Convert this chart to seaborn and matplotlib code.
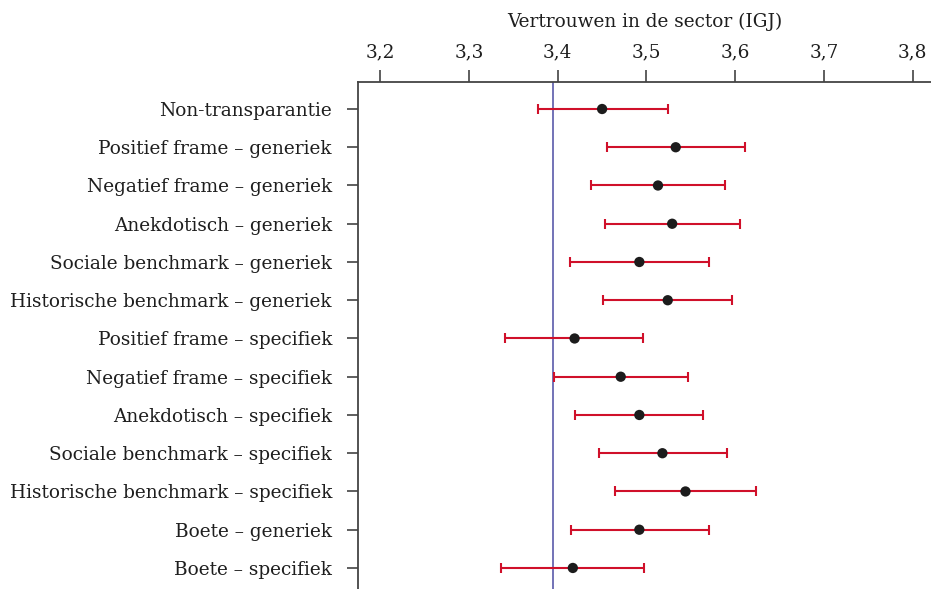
import matplotlib
matplotlib.use("Agg")
import matplotlib.pyplot as plt
import seaborn as sns
import numpy as np
import pandas as pd
from matplotlib.ticker import FuncFormatter

conditions = [
    "Non-transparantie",
    "Positief frame – generiek",
    "Negatief frame – generiek",
    "Anekdotisch – generiek",
    "Sociale benchmark – generiek",
    "Historische benchmark – generiek",
    "Positief frame – specifiek",
    "Negatief frame – specifiek",
    "Anekdotisch – specifiek",
    "Sociale benchmark – specifiek",
    "Historische benchmark – specifiek",
    "Boete – generiek",
    "Boete – specifiek",
]
estimate = [3.450, 3.533, 3.513, 3.529, 3.492, 3.524, 3.419, 3.471, 3.492, 3.518, 3.544, 3.492, 3.417]
ci_low = [3.378, 3.456, 3.437, 3.453, 3.414, 3.451, 3.341, 3.396, 3.420, 3.446, 3.465, 3.415, 3.336]
ci_high = [3.524, 3.611, 3.589, 3.606, 3.570, 3.597, 3.496, 3.547, 3.564, 3.591, 3.623, 3.570, 3.497]
reference_value = 3.395
x_ticks = [3.2, 3.3, 3.4, 3.5, 3.6, 3.7, 3.8]
x_title = "Vertrouwen in de sector (IGJ)"

df = pd.DataFrame({
    "conditie": conditions,
    "pos": np.arange(len(conditions)),
    "schatting": estimate,
    "laag": ci_low,
    "hoog": ci_high,
})

sns.set_theme(style="white")
plt.rcParams["font.family"] = ["DejaVu Serif", "Liberation Serif"]
plt.rcParams["font.size"] = 13.3
plt.rcParams["text.color"] = "#1e1e1e"
plt.rcParams["xtick.labelcolor"] = "#1e1e1e"
plt.rcParams["ytick.labelcolor"] = "#1e1e1e"

fig = plt.figure(figsize=(9.31, 5.89), dpi=100)
ax = fig.add_axes([0.3849, 0.0, 0.6151, 0.8613])

red = "#d0102a"
ax.axvline(reference_value, color="#4b4ba3", lw=1.1, zorder=1)
ax.errorbar(
    df["schatting"], df["pos"],
    xerr=[df["schatting"] - df["laag"], df["hoog"] - df["schatting"]],
    fmt="none", ecolor=red, elinewidth=1.5, capsize=3.9, capthick=1.5, zorder=2,
)
sns.scatterplot(data=df, x="schatting", y="pos", ax=ax, color="#1c1c1c",
                s=55, edgecolor="none", zorder=3, legend=False)

ax.set_xlim(3.1752, 3.8208)
ax.set_ylim(len(conditions) - 1 + 0.55, -0.714)
ax.xaxis.set_ticks_position("top")
ax.xaxis.set_label_position("top")
ax.set_xticks(x_ticks)
ax.xaxis.set_major_formatter(FuncFormatter(lambda v, p: f"{v:.1f}".replace(".", ",")))
ax.set_yticks(df["pos"])
ax.set_yticklabels(df["conditie"])
ax.set_xlabel(x_title, fontsize=13.3, labelpad=12, color="#1e1e1e")
ax.set_ylabel("")

for side in ["right", "bottom"]:
    ax.spines[side].set_visible(False)
for side in ["left", "top"]:
    ax.spines[side].set_color("#444444")
    ax.spines[side].set_linewidth(1.3)

ax.tick_params(axis="x", which="major", direction="out", length=8.5, width=1.1,
               color="#333333", pad=6, labelsize=13.3, top=True, bottom=False)
ax.tick_params(axis="y", which="major", direction="out", length=8, width=1.1,
               color="#333333", pad=11, labelsize=13.3, left=True)
ax.grid(False)

fig.savefig("out.png", dpi=100)
